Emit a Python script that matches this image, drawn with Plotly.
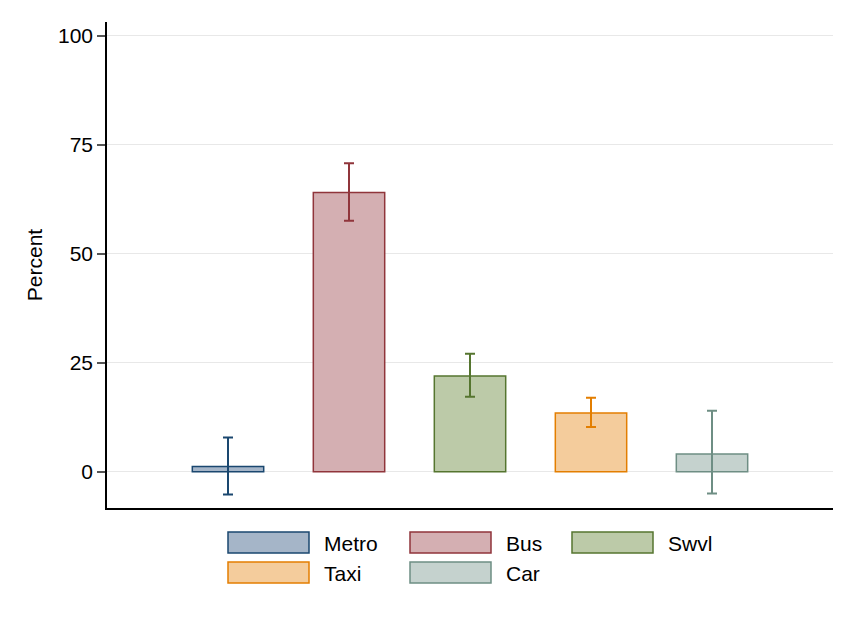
import plotly.graph_objects as go

# Data
modes = ["Metro", "Bus", "Swvl", "Taxi", "Car"]
pct = [1.2, 64.1, 22.0, 13.5, 4.1]
ci_hi = [7.9, 70.8, 27.1, 17.0, 14.0]
ci_lo = [-5.2, 57.6, 17.2, 10.3, -5.0]
x_pos = [0, 1, 2, 3, 4]

line_cols = ["#1a476f", "#90353b", "#55752f", "#e37e00", "#6e8e84"]
fill_cols = ["#a5b5c8", "#d4afb2", "#bccaa8", "#f4cc9c", "#c5d2ce"]

# page has an 8px body margin, so shift the figure margins to compensate
OFF = 8
W, H = 856, 623
L, R, T, B = 107 - OFF, 23 + OFF, 22 - OFF, 115 + OFF
pw, ph = W - L - R, H - T - B

fig = go.Figure()
for i, m in enumerate(modes):
    fig.add_trace(go.Bar(
        x=[x_pos[i]], y=[pct[i]], name=m, width=0.59, showlegend=False,
        marker=dict(color=fill_cols[i], line=dict(color=line_cols[i], width=1.5)),
        error_y=dict(type="data", symmetric=False,
                     array=[ci_hi[i] - pct[i]], arrayminus=[pct[i] - ci_lo[i]],
                     color=line_cols[i], thickness=2, width=5),
    ))

# legend drawn as boxes below the plot, 3 per row (like the Stata legend)
def px_x(v):
    return (v - OFF - L) / pw

def px_y(v):
    return (H - B - (v - OFF)) / ph

col_x = [228, 410, 572]
row_y = [532, 562]
for i, m in enumerate(modes):
    bx = col_x[i % 3]
    by = row_y[i // 3]
    fig.add_shape(type="rect", xref="paper", yref="paper",
                  x0=px_x(bx), x1=px_x(bx + 81), y0=px_y(by), y1=px_y(by + 21),
                  fillcolor=fill_cols[i], line=dict(color=line_cols[i], width=1.5))
    fig.add_annotation(text=m, xref="paper", yref="paper",
                       x=px_x(bx + 94), y=px_y(by + 11), xanchor="left", yanchor="middle",
                       showarrow=False, font=dict(size=21, color="black"))

fig.update_layout(
    width=W, height=H,
    plot_bgcolor="white", paper_bgcolor="white",
    font=dict(family="Liberation Sans, Arial", size=21, color="black"),
    margin=dict(l=L, r=R, t=T, b=B),
    barmode="overlay",
    showlegend=False,
    xaxis=dict(range=[-1, 5], showticklabels=False, ticks="", showgrid=False,
               showline=True, linecolor="black", linewidth=1.5, zeroline=False,
               automargin=False),
    yaxis=dict(range=[-8.3, 103.2], tickvals=[0, 25, 50, 75, 100],
               showgrid=True, gridcolor="#e8e8e8", gridwidth=1, zeroline=False,
               showline=True, linecolor="black", linewidth=1.5,
               ticks="outside", ticklen=8, tickcolor="#555555", tickwidth=1.5,
               tickfont=dict(size=21), automargin=False,
               title=dict(text="Percent", standoff=10, font=dict(size=21))),
)

fig.write_html("out.html")
